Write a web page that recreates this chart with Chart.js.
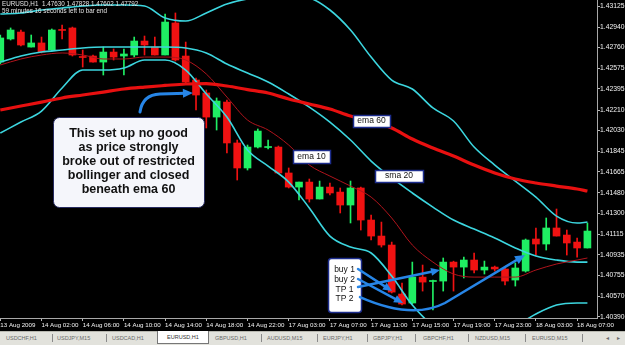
<!DOCTYPE html>
<html>
<head>
<meta charset="utf-8">
<script src="https://cdn.jsdelivr.net/npm/chart.js@4.4.0/dist/chart.umd.min.js"></script>
<style>
  html, body { margin: 0; padding: 0; background: #000; }
  #wrap { position: relative; width: 625px; height: 345px; overflow: hidden; background: #000; }
  canvas { display: block; }
  #tabs { position: absolute; left: 0; top: 331px; width: 625px; height: 14px; background: #e2e2dc;
          border-top: 1px solid #b8b8b0; box-sizing: border-box;
          font: 5.5px "Liberation Sans", Arial, sans-serif; color: #6a6a6a; }
  #tabs span { position: absolute; top: 3px; white-space: nowrap; }
  #tabs i { position: absolute; top: 2px; height: 8px; border-left: 1px solid #8a8a8a; }
  #tabs b { position: absolute; top: -1px; height: 13px; background: #fff; border: 1px solid #777; border-top: none;
            box-sizing: border-box; font-weight: normal; color: #333; text-align: center; line-height: 13px; }
</style>
</head>
<body>
<div id="wrap">
  <canvas id="chart" width="625" height="331"></canvas>
  <div id="tabs">
    <span style="left:6px">USDCHF,H1</span><i style="left:52px"></i>
    <span style="left:57px">USDJPY,M15</span><i style="left:106px"></i>
    <span style="left:112px">USDCAD,H1</span>
    <b style="left:157px;width:52px">EURUSD,H1</b>
    <span style="left:215px">GBPUSD,H1</span><i style="left:261px"></i>
    <span style="left:267px">AUDUSD,M15</span><i style="left:317px"></i>
    <span style="left:323px">EURJPY,H1</span><i style="left:367px"></i>
    <span style="left:373px">GBPJPY,H1</span><i style="left:415px"></i>
    <span style="left:423px">GBPCHF,H1</span><i style="left:468px"></i>
    <span style="left:475px">NZDUSD,M15</span><i style="left:525px"></i>
    <span style="left:532px">EURUSD,M15</span><i style="left:582px"></i>
    <span style="left:606px">&#9666;</span><span style="left:617px">&#9656;</span>
  </div>
</div>
<script>
// EURUSD H1 candles, bar 0 = 13 Aug 22:00
const opens = [1.42632, 1.42835, 1.42896, 1.42764, 1.42800, 1.42738, 1.42918, 1.42932, 1.42681, 1.42685,
  1.42632, 1.42720, 1.42685, 1.42694, 1.42817, 1.42764, 1.42694, 1.42976, 1.42685, 1.42474,
  1.42360, 1.42148, 1.42280, 1.41920, 1.41700, 1.41884, 1.41880, 1.41884, 1.41656, 1.41532,
  1.41576, 1.41427, 1.41532, 1.41488, 1.41374, 1.41524, 1.41242, 1.41101, 1.41022, 1.40591,
  1.40512, 1.40740, 1.40701, 1.40705, 1.40872, 1.40828, 1.40890, 1.40802, 1.40828, 1.40811,
  1.40714, 1.40793, 1.41075, 1.41031, 1.41172, 1.41110, 1.41048, 1.40996];
const highs = [1.42870, 1.42932, 1.42914, 1.42870, 1.42852, 1.42923, 1.42958, 1.42940, 1.42738, 1.42694,
  1.42764, 1.42747, 1.42747, 1.42852, 1.42861, 1.42852, 1.43055, 1.43064, 1.42808, 1.42492,
  1.42386, 1.42316, 1.42298, 1.41946, 1.41902, 1.42043, 1.41946, 1.41893, 1.41700, 1.41576,
  1.41603, 1.41585, 1.41568, 1.41524, 1.41585, 1.41532, 1.41286, 1.41224, 1.41048, 1.40688,
  1.40872, 1.40846, 1.40714, 1.40908, 1.40880, 1.40916, 1.40952, 1.40881, 1.40837, 1.40820,
  1.40864, 1.41075, 1.41172, 1.41260, 1.41339, 1.41154, 1.41084, 1.41216];
const lows = [1.42615, 1.42826, 1.42773, 1.42764, 1.42712, 1.42729, 1.42835, 1.42685, 1.42588, 1.42632,
  1.42518, 1.42650, 1.42518, 1.42676, 1.42694, 1.42694, 1.42694, 1.42641, 1.42448, 1.42210,
  1.42052, 1.42034, 1.41832, 1.41594, 1.41682, 1.41876, 1.41867, 1.41656, 1.41524, 1.41418,
  1.41400, 1.41427, 1.41462, 1.41304, 1.41216, 1.41154, 1.41066, 1.41004, 1.40600, 1.40494,
  1.40503, 1.40617, 1.40450, 1.40617, 1.40617, 1.40732, 1.40776, 1.40767, 1.40793, 1.40670,
  1.40661, 1.40784, 1.40934, 1.40978, 1.41101, 1.40934, 1.40916, 1.40996];
const closes = [1.42844, 1.42914, 1.42782, 1.42800, 1.42720, 1.42914, 1.42910, 1.42694, 1.42672, 1.42632,
  1.42720, 1.42676, 1.42703, 1.42817, 1.42782, 1.42694, 1.42984, 1.42650, 1.42456, 1.42342,
  1.42148, 1.42289, 1.41920, 1.41700, 1.41884, 1.42025, 1.41884, 1.41656, 1.41532, 1.41576,
  1.41427, 1.41532, 1.41480, 1.41374, 1.41524, 1.41242, 1.41101, 1.41022, 1.40608, 1.40503,
  1.40740, 1.40696, 1.40710, 1.40872, 1.40828, 1.40890, 1.40802, 1.40828, 1.40811, 1.40705,
  1.40820, 1.41066, 1.41031, 1.41172, 1.41101, 1.41040, 1.40996, 1.41145];

// indicator readings, taken at these bar numbers
const lineBars = [0, 2, 4, 6, 8, 10, 12, 14, 16, 18, 20, 22, 24, 26, 28, 30, 32, 34, 36, 38,
  40, 42, 44, 46, 48, 50, 52, 54, 56, 57];
const ema60 = [1.42210, 1.42245, 1.42280, 1.42316, 1.42342, 1.42368, 1.42395, 1.42412, 1.42426, 1.42439,
  1.42443, 1.42421, 1.42390, 1.42360, 1.42307, 1.42263, 1.42219, 1.42157, 1.42113, 1.42052,
  1.41955, 1.41876, 1.41805, 1.41726, 1.41656, 1.41603, 1.41568, 1.41541, 1.41515, 1.41497];
const ema10 = [1.42606, 1.42659, 1.42694, 1.42712, 1.42694, 1.42659, 1.42659, 1.42676, 1.42676, 1.42650,
  1.42527, 1.42324, 1.42122, 1.42034, 1.41902, 1.41726, 1.41629, 1.41541, 1.41444, 1.41260,
  1.41022, 1.40872, 1.40767, 1.40740, 1.40740, 1.40740, 1.40802, 1.40855, 1.40890, 1.40908];
const bbUpper = [1.43055, 1.43064, 1.43090, 1.43108, 1.43125, 1.43134, 1.43134, 1.43125, 1.43020, 1.42993,
  1.43064, 1.43143, 1.43187, 1.43204, 1.43213, 1.43196, 1.43090, 1.42914, 1.42676, 1.42474,
  1.42395, 1.42228, 1.42113, 1.41884, 1.41726, 1.41585, 1.41444, 1.41277, 1.41216, 1.41224];
const sma20 = [1.42632, 1.42685, 1.42720, 1.42738, 1.42756, 1.42764, 1.42764, 1.42764, 1.42764, 1.42756,
  1.42712, 1.42615, 1.42536, 1.42456, 1.42351, 1.42236, 1.42104, 1.41946, 1.41761, 1.41612,
  1.41480, 1.41356, 1.41242, 1.41163, 1.41084, 1.40996, 1.40925, 1.40890, 1.40872, 1.40872];
const bbLower = [1.42008, 1.42104, 1.42201, 1.42404, 1.42562, 1.42562, 1.42580, 1.42650, 1.42650, 1.42562,
  1.42351, 1.42148, 1.41858, 1.41717, 1.41576, 1.41348, 1.41101, 1.41004, 1.40952, 1.40749,
  1.40494, 1.40318, 1.40256, 1.40221, 1.40239, 1.40309, 1.40415, 1.40494, 1.40512, 1.40512];

// axis labels
const tickBars = [0, 4, 8, 12, 16, 20, 24, 28, 32, 36, 40, 44, 48, 52, 56];
const tickLabels = ['13 Aug 2009', '14 Aug 02:00', '14 Aug 06:00', '14 Aug 10:00', '14 Aug 14:00',
  '14 Aug 18:00', '14 Aug 22:00', '17 Aug 03:00', '17 Aug 07:00', '17 Aug 11:00', '17 Aug 15:00',
  '17 Aug 19:00', '17 Aug 23:00', '18 Aug 03:00', '18 Aug 07:00'];
const priceTicks = [1.43125, 1.42940, 1.42760, 1.42575, 1.42395, 1.42210, 1.42030, 1.41845,
  1.41665, 1.41480, 1.41300, 1.41115, 1.40935, 1.40755, 1.40570, 1.40390];

const headerLines = ['EURUSD,H1  1.47630 1.47828 1.47602 1.47792', '59 minutes 16 seconds left to bar end'];

const BULL = '#1fee63';
const BEAR = '#f01212';
const CYAN = '#3cd6df';
const ARROW = '#2785e6';
const FONT = '"Liberation Sans", Arial, sans-serif';

// text boxes, placed in bar / price units
const notes = [
  { x0: 5.12, x1: 19.78, y0: 1.42148, y1: 1.41356, radius: 6, lw: 1, stroke: '#262a60', fill: '#f5f6fb',
    font: 'bold 12.5px ' + FONT, first: 16, step: 14.2,
    lines: ['This set up no good', 'as price strongly', 'broke out of restricted', 'bollinger and closed', 'beneath ema 60'] },
  { x0: 34.24, x1: 37.84, y0: 1.42166, y1: 1.42060, radius: 0, lw: 1.5, stroke: '#1c2c8c', fill: '#ffffff',
    font: '8.5px ' + FONT, first: 6, step: 0, lines: ['ema 60'] },
  { x0: 28.42, x1: 32.01, y0: 1.41858, y1: 1.41744, radius: 0, lw: 1.5, stroke: '#1c2c8c', fill: '#ffffff',
    font: '8.5px ' + FONT, first: 6.5, step: 0, lines: ['ema 10'] },
  { x0: 36.38, x1: 41.04, y0: 1.41682, y1: 1.41576, radius: 0, lw: 1.5, stroke: '#1c2c8c', fill: '#ffffff',
    font: '8.5px ' + FONT, first: 6, step: 0, lines: ['sma 20'] },
  { x0: 31.82, x1: 35.02, y0: 1.40908, y1: 1.40432, radius: 3, lw: 1.5, stroke: '#1c2c8c', fill: '#ffffff',
    font: '8.5px ' + FONT, first: 12, step: 9.7, lines: ['buy 1', 'buy 2', 'TP 1', 'TP 2'] }
];

const arrows = [
  { pts: [[13.56, 1.42192], [13.8, 1.42345], [15.5, 1.42351]], tip: [18.7, 1.42360], w: 3, head: 10 },
  { pts: [[34.73, 1.40811]], tip: [38.03, 1.40617], w: 2.5, head: 9 },
  { pts: [[34.73, 1.40723]], tip: [39.1, 1.40512], w: 2.5, head: 9 },
  { pts: [[34.73, 1.40652]], tip: [42.69, 1.40802], w: 2.5, head: 9 },
  { pts: [[34.92, 1.40564], [39.97, 1.40362], [43.17, 1.40512]], tip: [50.94, 1.40934], w: 2.5, head: 10 }
];

const notesPlugin = {
  id: 'notes',
  afterDatasetsDraw(chart) {
    const { ctx, scales: { x, y } } = chart;
    const X = v => x.getPixelForValue(v);
    const Y = v => y.getPixelForValue(v);
    ctx.save();

    ctx.fillStyle = '#e4e4e4';
    ctx.font = '6.3px ' + FONT;
    ctx.textAlign = 'left';
    ctx.textBaseline = 'middle';
    ctx.fillText(headerLines[0], 2, 4.5);
    ctx.fillText(headerLines[1], 2, 11.5);

    notes.forEach(n => {
      const l = X(n.x0), r = X(n.x1), t = Y(n.y0), b = Y(n.y1);
      ctx.beginPath();
      ctx.roundRect(Math.round(l) + 0.5, Math.round(t) + 0.5, Math.round(r - l), Math.round(b - t), n.radius);
      ctx.fillStyle = n.fill;
      ctx.fill();
      ctx.lineWidth = n.lw;
      ctx.strokeStyle = n.stroke;
      ctx.stroke();
      ctx.fillStyle = '#111';
      ctx.font = n.font;
      ctx.textAlign = 'center';
      n.lines.forEach((s, k) => ctx.fillText(s, (l + r) / 2, t + n.first + k * n.step));
    });

    ctx.strokeStyle = ARROW;
    ctx.fillStyle = ARROW;
    ctx.lineCap = 'round';
    arrows.forEach(a => {
      const p = a.pts.map(q => [X(q[0]), Y(q[1])]);
      const tx = X(a.tip[0]), ty = Y(a.tip[1]);
      const last = p[p.length - 1];
      const ang = Math.atan2(ty - last[1], tx - last[0]);
      ctx.lineWidth = a.w;
      ctx.beginPath();
      ctx.moveTo(p[0][0], p[0][1]);
      if (p.length === 3) ctx.quadraticCurveTo(p[1][0], p[1][1], p[2][0], p[2][1]);
      ctx.lineTo(tx - a.head * 0.7 * Math.cos(ang), ty - a.head * 0.7 * Math.sin(ang));
      ctx.stroke();
      const half = a.head * 0.45;
      ctx.beginPath();
      ctx.moveTo(tx, ty);
      ctx.lineTo(tx - a.head * Math.cos(ang) + half * Math.sin(ang), ty - a.head * Math.sin(ang) - half * Math.cos(ang));
      ctx.lineTo(tx - a.head * Math.cos(ang) - half * Math.sin(ang), ty - a.head * Math.sin(ang) + half * Math.cos(ang));
      ctx.closePath();
      ctx.fill();
    });
    ctx.restore();
  }
};

const candleColor = c => (c.dataIndex === undefined || closes[c.dataIndex] >= opens[c.dataIndex]) ? BULL : BEAR;
const points = vals => vals.map((v, k) => ({ x: lineBars[k], y: v }));
const lineSet = (label, vals, color, width) => ({
  type: 'line', label, data: points(vals), borderColor: color, borderWidth: width,
  pointRadius: 0, cubicInterpolationMode: 'monotone', clip: 0
});

Chart.defaults.font.family = FONT;

new Chart(document.getElementById('chart').getContext('2d'), {
  type: 'bar',
  data: {
    datasets: [
      lineSet('ema 60', ema60, '#e81010', 3.2),
      lineSet('ema 10', ema10, '#b0141c', 1),
      lineSet('bb upper', bbUpper, CYAN, 1.6),
      lineSet('sma 20', sma20, CYAN, 1.6),
      lineSet('bb lower', bbLower, CYAN, 1.6),
      {
        label: 'body', data: opens.map((o, i) => ({ x: i, y: [o, closes[i]] })),
        backgroundColor: candleColor, barThickness: 7, grouped: false, minBarLength: 1, clip: 0
      },
      {
        label: 'wick', data: lows.map((l, i) => ({ x: i, y: [l, highs[i]] })),
        backgroundColor: candleColor, barThickness: 1, grouped: false, clip: 0
      }
    ]
  },
  options: {
    responsive: false,
    animation: false,
    layout: { padding: 0 },
    plugins: { legend: { display: false }, tooltip: { enabled: false } },
    scales: {
      x: {
        type: 'linear', min: -0.03, max: 57.93, offset: false,
        afterBuildTicks: s => { s.ticks = tickBars.map(v => ({ value: v })); },
        afterFit: s => { s.height = 13; s.paddingLeft = 0; s.paddingRight = 0; },
        ticks: {
          color: '#f2f2f2', font: { size: 6.2 }, align: 'start', padding: 1,
          maxRotation: 0, minRotation: 0, autoSkip: false,
          callback: (v, i) => tickLabels[i]
        },
        grid: { drawOnChartArea: false, offset: false, color: '#b8b8b8', tickLength: 3 },
        border: { color: '#a8a8a8' }
      },
      y: {
        position: 'right', min: 1.40380, max: 1.43178, beginAtZero: false,
        afterBuildTicks: s => { s.ticks = priceTicks.map(v => ({ value: v })); },
        afterFit: s => { s.width = 28; s.paddingTop = 0; s.paddingBottom = 0; },
        ticks: { color: '#f2f2f2', font: { size: 6.8 }, padding: 0, autoSkip: false, callback: v => v.toFixed(5) },
        grid: { drawOnChartArea: false, color: '#b8b8b8', tickLength: 3 },
        border: { color: '#a8a8a8' }
      }
    }
  },
  plugins: [notesPlugin]
});
</script>
</body>
</html>
